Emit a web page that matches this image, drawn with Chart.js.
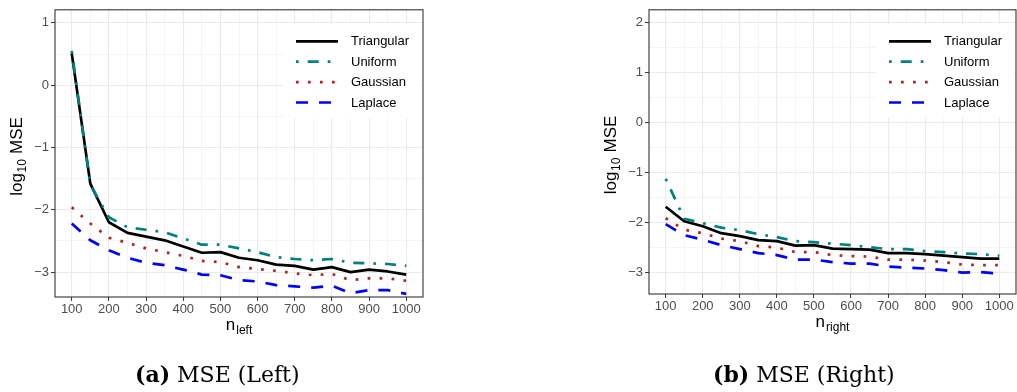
<!DOCTYPE html>
<html>
<head>
<meta charset="utf-8">
<title>MSE by sample size</title>
<script src="https://cdn.jsdelivr.net/npm/chart.js@4.4.1/dist/chart.umd.min.js"></script>
<style>
  html, body { margin: 0; padding: 0; background: #fff; }
  #wrap { position: relative; width: 1017px; height: 392px; overflow: hidden; }
  canvas { position: absolute; top: 0; }
  #left { left: 0; }
  #right { left: 560px; }
</style>
</head>
<body>
<div id="wrap">
  <canvas id="left" width="440" height="392"></canvas>
  <canvas id="right" width="457" height="392"></canvas>
</div>
<script>
// sample sizes on the x axis
const sampleSizes = [100, 150, 200, 250, 300, 350, 400, 450, 500, 550,
                     600, 650, 700, 750, 800, 850, 900, 950, 1000];
const xMajorTicks = [100, 200, 300, 400, 500, 600, 700, 800, 900, 1000];
const xMinorTicks = [150, 250, 350, 450, 550, 650, 750, 850, 950];

const kernelNames = ['Triangular', 'Uniform', 'Gaussian', 'Laplace'];

// log10 MSE, left boundary
const leftTriangular = [0.51, -1.58, -2.20, -2.37, -2.43, -2.49, -2.59, -2.69, -2.68, -2.77,
                        -2.81, -2.88, -2.90, -2.96, -2.92, -3.00, -2.96, -2.99, -3.04];
const leftUniform    = [0.55, -1.60, -2.12, -2.28, -2.32, -2.36, -2.46, -2.56, -2.56, -2.62,
                        -2.68, -2.76, -2.79, -2.81, -2.79, -2.85, -2.86, -2.87, -2.90];
const leftGaussian   = [-1.96, -2.22, -2.45, -2.53, -2.62, -2.68, -2.74, -2.82, -2.84, -2.92,
                        -2.95, -2.98, -3.02, -3.05, -3.03, -3.13, -3.10, -3.10, -3.14];
const leftLaplace    = [-2.22, -2.49, -2.65, -2.77, -2.85, -2.89, -2.96, -3.04, -3.05, -3.13,
                        -3.15, -3.21, -3.23, -3.25, -3.22, -3.34, -3.29, -3.29, -3.35];

// log10 MSE, right boundary
const rightTriangular = [-1.69, -1.98, -2.08, -2.22, -2.28, -2.36, -2.38, -2.47, -2.46, -2.53,
                         -2.54, -2.55, -2.62, -2.62, -2.64, -2.67, -2.70, -2.73, -2.73];
const rightUniform    = [-1.13, -1.93, -2.02, -2.11, -2.16, -2.24, -2.30, -2.38, -2.40, -2.43,
                         -2.46, -2.50, -2.54, -2.54, -2.58, -2.60, -2.63, -2.64, -2.67];
const rightGaussian   = [-1.92, -2.15, -2.22, -2.33, -2.38, -2.48, -2.51, -2.60, -2.60, -2.66,
                         -2.68, -2.69, -2.75, -2.75, -2.77, -2.80, -2.85, -2.86, -2.86];
const rightLaplace    = [-2.04, -2.26, -2.35, -2.46, -2.54, -2.62, -2.66, -2.75, -2.75, -2.80,
                         -2.83, -2.83, -2.89, -2.91, -2.93, -2.96, -3.01, -3.00, -3.03];

const leftMajorY  = [-3, -2, -1, 0, 1];
const leftMinorY  = [-2.5, -1.5, -0.5, 0.5];
const rightMajorY = [-3, -2, -1, 0, 1, 2];
const rightMinorY = [-2.5, -1.5, -0.5, 0.5, 1.5];

// line styles (ggplot-ish linetypes)
const lwd = 2.7;
const lineColors = ['#000000', '#008080', '#B22222', '#0000FF'];
const lineDashes = [[], [2.7, 9, 11, 9], [2.7, 9.3], [12, 11]];

const SANS = '"Liberation Sans", Arial, sans-serif';
const SERIF = '"DejaVu Serif", "Liberation Serif", serif';

const fmtTick = v => (v < 0 ? '\u2212' + Math.abs(v) : String(v));

// draws legend box, panel border, axis titles with subscripts and the caption
const panelDecor = {
  id: 'panelDecor',
  afterDatasetsDraw(chart) {
    const { ctx, chartArea: a } = chart;
    ctx.save();
    ctx.fillStyle = '#fff';
    ctx.fillRect(a.right - 140, a.top + 14, 138, 94);
    chart.data.datasets.forEach((ds, i) => {
      const y = a.top + 31.5 + i * 20.4;
      ctx.beginPath();
      ctx.strokeStyle = ds.borderColor;
      ctx.lineWidth = ds.borderWidth;
      ctx.lineCap = 'butt';
      ctx.setLineDash(ds.borderDash);
      ctx.moveTo(a.right - 127, y);
      ctx.lineTo(a.right - 85, y);
      ctx.stroke();
      ctx.setLineDash([]);
      ctx.fillStyle = '#000';
      ctx.font = '13px ' + SANS;
      ctx.textBaseline = 'middle';
      ctx.textAlign = 'left';
      ctx.fillText(ds.label, a.right - 72, y + 0.5);
    });
    ctx.restore();
  },
  afterDraw(chart, args, opts) {
    const { ctx, chartArea: a } = chart;
    ctx.save();
    ctx.strokeStyle = '#333333';
    ctx.lineWidth = 1.1;
    ctx.strokeRect(a.left, a.top, a.right - a.left, a.bottom - a.top);

    ctx.fillStyle = '#000';
    ctx.textBaseline = 'alphabetic';
    ctx.textAlign = 'left';
    const big = '17px ' + SANS, small = '12px ' + SANS;

    // x title: n with subscript
    ctx.font = big;
    const wn = ctx.measureText('n').width;
    ctx.font = small;
    const ws = ctx.measureText(opts.xSub).width;
    let x0 = (a.left + a.right) / 2 - (wn + 1 + ws) / 2;
    const yb = a.bottom + 33;
    ctx.font = big;
    ctx.fillText('n', x0, yb);
    ctx.font = small;
    ctx.fillText(opts.xSub, x0 + wn + 1, yb + 4);

    // y title: log10 MSE, rotated
    ctx.save();
    ctx.translate(a.left - 33, (a.top + a.bottom) / 2 + 3);
    ctx.rotate(-Math.PI / 2);
    ctx.font = big;
    const w1 = ctx.measureText('log').width;
    const w3 = ctx.measureText(' MSE').width;
    ctx.font = small;
    const w2 = ctx.measureText('10').width;
    let s = -(w1 + w2 + w3 + 1) / 2;
    ctx.font = big;
    ctx.fillText('log', s, 0);
    ctx.font = small;
    ctx.fillText('10', s + w1 + 0.5, 4);
    ctx.font = big;
    ctx.fillText(' MSE', s + w1 + w2 + 1, 0);
    ctx.restore();

    // caption
    ctx.font = 'bold 22px ' + SERIF;
    const wt = ctx.measureText(opts.tag).width;
    ctx.fillText(opts.tag, opts.capX, 382);
    ctx.font = '22px ' + SERIF;
    ctx.fillText(opts.caption, opts.capX + wt, 382);
    ctx.restore();
  }
};

function makePanel(id, series, majorY, minorY, yMin, yMax, layout, deco) {
  const yAll = minorY.concat(majorY).sort((p, q) => p - q);
  const xAll = xMinorTicks.concat(xMajorTicks).sort((p, q) => p - q);
  const isMajorX = v => xMajorTicks.includes(v);
  const isMajorY = v => majorY.includes(v);

  return new Chart(document.getElementById(id), {
    type: 'line',
    data: {
      datasets: series.map((vals, i) => ({
        label: kernelNames[i],
        data: sampleSizes.map((n, k) => ({ x: n, y: vals[k] })),
        borderColor: lineColors[i],
        borderDash: lineDashes[i],
        borderWidth: lwd,
        borderCapStyle: 'butt',
        borderJoinStyle: 'round',
        pointRadius: 0,
        tension: 0,
        fill: false,
        order: series.length - 1 - i
      }))
    },
    options: {
      responsive: false,
      animation: false,
      devicePixelRatio: 1,
      layout: { padding: layout.padding },
      plugins: {
        legend: { display: false },
        tooltip: { enabled: false },
        panelDecor: deco
      },
      scales: {
        x: {
          type: 'linear',
          min: 55,
          max: 1045,
          afterBuildTicks: sc => { sc.ticks = xAll.map(v => ({ value: v })); },
          afterFit: sc => { sc.height = layout.xHeight; },
          border: { display: false },
          grid: {
            color: '#EBEBEB',
            lineWidth: c => (isMajorX(c.tick.value) ? 1.1 : 0.55),
            tickColor: c => (isMajorX(c.tick.value) ? '#333333' : 'rgba(0,0,0,0)'),
            tickWidth: 1,
            tickLength: 4
          },
          ticks: {
            autoSkip: false,
            maxRotation: 0,
            padding: 1,
            color: '#4D4D4D',
            font: { family: SANS, size: 13 },
            callback: v => (isMajorX(v) ? String(v) : '')
          }
        },
        y: {
          type: 'linear',
          min: yMin,
          max: yMax,
          afterBuildTicks: sc => { sc.ticks = yAll.map(v => ({ value: v })); },
          afterFit: sc => { sc.width = layout.yWidth; },
          border: { display: false },
          grid: {
            color: '#EBEBEB',
            lineWidth: c => (isMajorY(c.tick.value) ? 1.1 : 0.55),
            tickColor: c => (isMajorY(c.tick.value) ? '#333333' : 'rgba(0,0,0,0)'),
            tickWidth: 1,
            tickLength: 4
          },
          ticks: {
            autoSkip: false,
            padding: 2,
            color: '#4D4D4D',
            font: { family: SANS, size: 13 },
            callback: v => (isMajorY(v) ? fmtTick(v) : '')
          }
        }
      }
    },
    plugins: [panelDecor]
  });
}

makePanel('left',
  [leftTriangular, leftUniform, leftGaussian, leftLaplace],
  leftMajorY, leftMinorY, -3.40, 1.21,
  { padding: { left: 0, right: 17, top: 8, bottom: 0 }, yWidth: 55, xHeight: 95 },
  { xSub: 'left', tag: '(a)', caption: ' MSE (Left)', capX: 135 });

makePanel('right',
  [rightTriangular, rightUniform, rightGaussian, rightLaplace],
  rightMajorY, rightMinorY, -3.44, 2.26,
  { padding: { left: 0, right: 1, top: 8, bottom: 0 }, yWidth: 89, xHeight: 98 },
  { xSub: 'right', tag: '(b)', caption: ' MSE (Right)', capX: 713 - 560 });
</script>
</body>
</html>
